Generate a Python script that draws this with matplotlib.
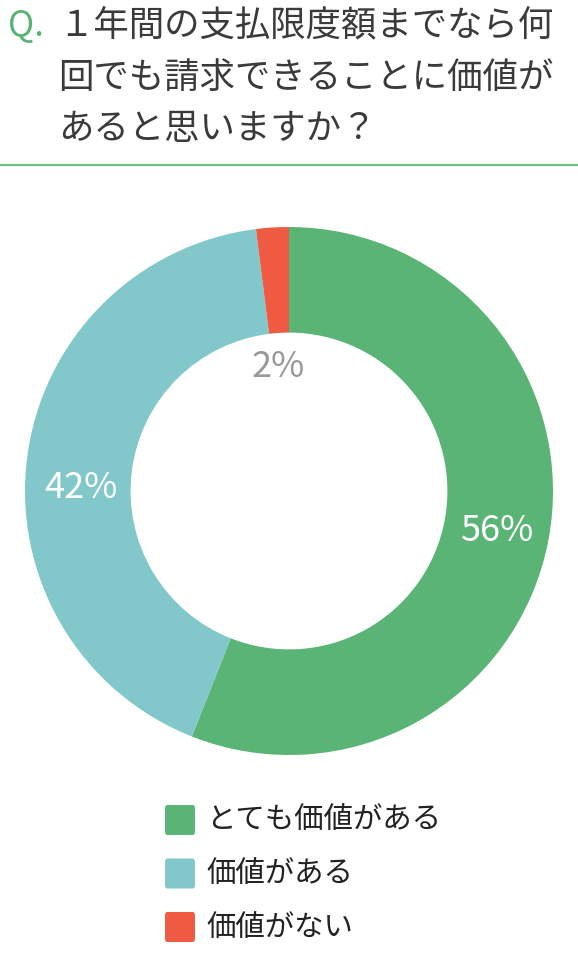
import matplotlib
matplotlib.use("Agg")
import matplotlib.pyplot as plt
from matplotlib.patches import FancyBboxPatch

plt.rcParams['font.family'] = ['Noto Sans CJK JP', 'DejaVu Sans']

# ================================================================================
question_lines = ["１年間の支払限度額までなら何", "回でも請求できることに価値が", "あると思いますか？"]
categories = ["とても価値がある", "価値がある", "価値がない"]
values = [56, 42, 2]
colors = ["#5ab475", "#82c8cb", "#ee5a42"]
pct_colors = ["white", "white", "#999999"]

# ================================================================================
W, H = 578, 957
fig = plt.figure(figsize=(W / 100, H / 100), dpi=100)
fig.patch.set_facecolor("white")

# title
fig.text(8 / W, 1 - 26 / H, "Q.", color="#5ab475", fontsize=25.5, va="center", ha="left")
for i, line in enumerate(question_lines):
    fig.text(58 / W, 1 - (26 + 51.5 * i) / H, line, color="#3a3a3a", fontsize=25.5,
             va="center", ha="left")
fig.add_artist(plt.Line2D([0, 1], [1 - 165 / H, 1 - 165 / H], color="#6cbf85", lw=1.6))

# donut
cx, cy, r = 289, 491, 264
ax = fig.add_axes([(cx - r) / W, (H - cy - r) / H, 2 * r / W, 2 * r / H])
wedges, texts, autotexts = ax.pie(values, colors=colors, startangle=90, counterclock=False,
                                  wedgeprops=dict(width=0.4, linewidth=0),
                                  autopct=lambda p: "%d%%" % round(p), pctdistance=0.8)
for t, c in zip(autotexts, pct_colors):
    t.set_color(c)
    t.set_fontsize(26)
    t.set_ha("center")
    t.set_va("center")
autotexts[1].set_position((-0.79, 0.01))
autotexts[2].set_position((-0.04, 0.47))
ax.set_xlim(-1, 1)
ax.set_ylim(-1, 1)
ax.set_aspect("equal")
ax.axis("off")

# legend
for i, (cat, col) in enumerate(zip(categories, colors)):
    y = 820 + 53.5 * i
    box = FancyBboxPatch(((165) / W, 1 - (y + 15) / H), 30 / W, 30 / H,
                         boxstyle="round,pad=0,rounding_size=0.004",
                         transform=fig.transFigure, facecolor=col, edgecolor="none")
    fig.add_artist(box)
    fig.text(206 / W, 1 - y / H, cat, color="#222222", fontsize=21.2, va="center", ha="left")

fig.savefig("out.png", dpi=100)
